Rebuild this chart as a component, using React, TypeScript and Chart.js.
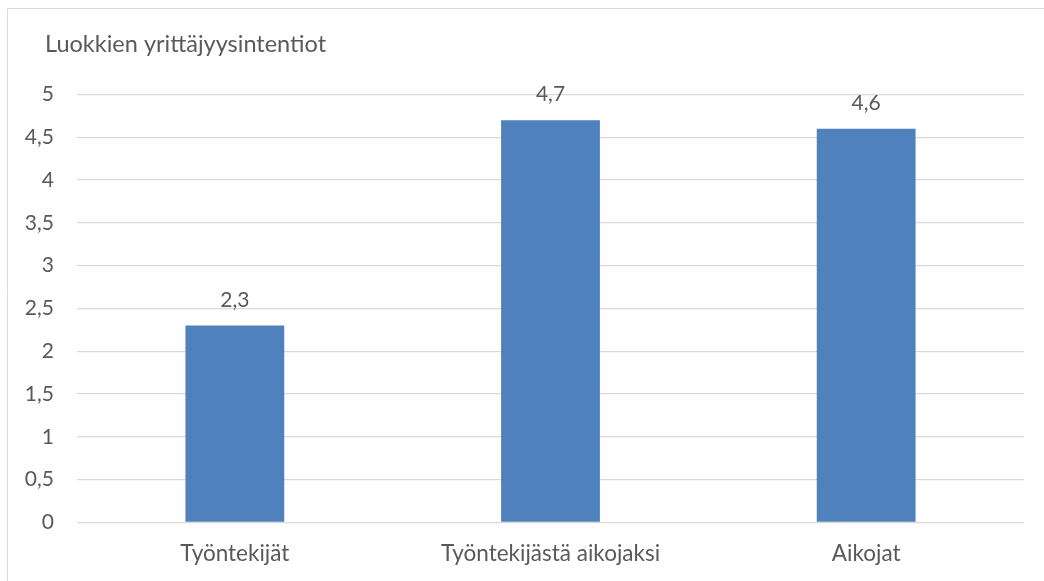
import React, { useEffect, useRef } from "react";
import { Chart, registerables } from "chart.js";

Chart.register(...registerables);

const titleText = "Luokkien yrittäjyysintentiot";
const categories = ["Työntekijät", "Työntekijästä aikojaksi", "Aikojat"];
const values = [2.3, 4.7, 4.6];
const yTicks = [0, 0.5, 1, 1.5, 2, 2.5, 3, 3.5, 4, 4.5, 5];

const FONT = "Lato, 'Open Sans', sans-serif";
const TEXT = "#595959";
const GRID = "#d9d9d9";
const BAR = "#4f81bd";
const fmt = (v: number) => String(v).replace(".", ",");

const decor = {
  id: "decor",
  beforeDraw(chart: any) {
    const ctx = chart.ctx;
    ctx.save();
    ctx.strokeStyle = GRID;
    ctx.lineWidth = 1;
    ctx.beginPath();
    ctx.moveTo(7.5, 581);
    ctx.lineTo(7.5, 8.5);
    ctx.lineTo(1044, 8.5);
    ctx.stroke();
    ctx.fillStyle = TEXT;
    ctx.font = `23.5px ${FONT}`;
    ctx.textBaseline = "alphabetic";
    ctx.textAlign = "left";
    ctx.fillText(titleText, 45, 52);
    ctx.restore();
  },
  afterDatasetsDraw(chart: any) {
    const ctx = chart.ctx;
    const meta = chart.getDatasetMeta(0);
    ctx.save();
    ctx.fillStyle = TEXT;
    ctx.font = `21px ${FONT}`;
    ctx.textAlign = "center";
    ctx.textBaseline = "alphabetic";
    meta.data.forEach((bar: any, i: number) => {
      ctx.fillText(fmt(values[i]), bar.x, bar.y - 19);
    });
    ctx.restore();
  },
};

export default function App() {
  const ref = useRef<HTMLCanvasElement>(null);
  useEffect(() => {
    if (!ref.current) return;
    const chart = new Chart(ref.current, {
      type: "bar",
      data: {
        labels: categories,
        datasets: [
          {
            data: values,
            backgroundColor: BAR,
            categoryPercentage: 1,
            barPercentage: 0.313,
          },
        ],
      },
      options: {
        animation: false,
        responsive: true,
        maintainAspectRatio: false,
        layout: { padding: { left: 0, right: 20, top: 94.5, bottom: 0 } },
        plugins: { legend: { display: false }, tooltip: { enabled: false }, title: { display: false } },
        scales: {
          x: {
            grid: { display: false, drawTicks: false },
            border: { display: false },
            ticks: { color: TEXT, font: { family: FONT, size: 22.5 }, padding: 18 },
            afterFit: (s: any) => {
              s.height = 58.5;
            },
          },
          y: {
            min: 0,
            max: 5,
            afterBuildTicks: (s: any) => {
              s.ticks = yTicks.map((v) => ({ value: v }));
            },
            grid: { color: GRID, lineWidth: 1.3, drawTicks: false },
            border: { display: false },
            ticks: {
              color: TEXT,
              font: { family: FONT, size: 21 },
              padding: 23,
              callback: (v: any) => fmt(Number(v)),
            },
            afterFit: (s: any) => {
              s.width = 77;
            },
          },
        },
      },
      plugins: [decor],
    });
    return () => chart.destroy();
  }, []);
  return (
    <div style={{ position: "absolute", left: 0, top: 0, width: 1044, height: 581 }}>
      <canvas ref={ref} />
    </div>
  );
}
